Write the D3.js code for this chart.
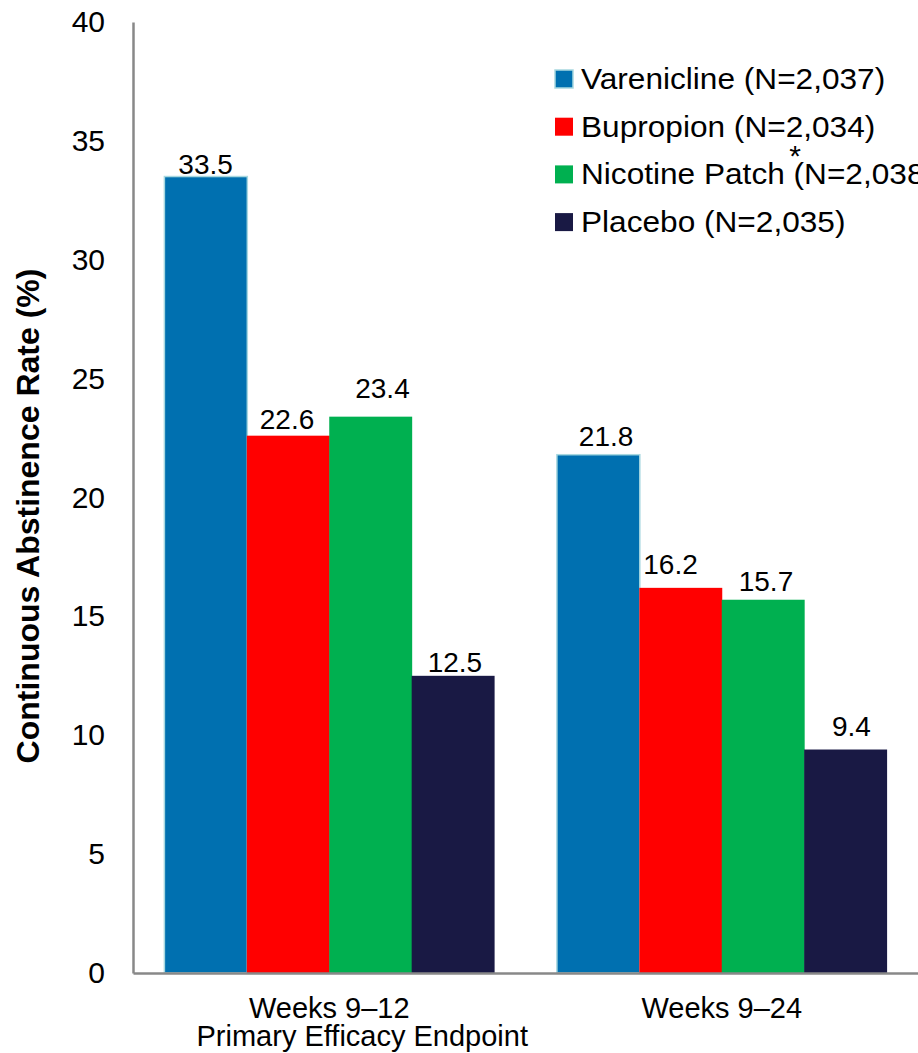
<!DOCTYPE html>
<html><head><meta charset="utf-8">
<script src="https://cdn.jsdelivr.net/npm/d3@7"></script>
<style>body{margin:0;background:#fff}svg{display:block;font-family:"Liberation Sans",Arial,sans-serif}</style>
</head><body>
<script>
const categories = ["Weeks 9\u201312", "Weeks 9\u201324"];
const subLabels = ["Primary Efficacy Endpoint", ""];
const seriesNames = ["Varenicline (N=2,037)", "Bupropion (N=2,034)", "Nicotine Patch (N=2,038)", "Placebo (N=2,035)"];
const varenicline = [33.5, 21.8];
const bupropion = [22.6, 16.2];
const nicotinePatch = [23.4, 15.7];
const placebo = [12.5, 9.4];
const yTicks = [0, 5, 10, 15, 20, 25, 30, 35, 40];

const colors = ["#0070b0", "#ff0000", "#00b050", "#191944"];
// label offsets (style only): [gap above bar, horizontal nudge] per series per category
const labelGap = [[3, 9], [7, 14], [19, 9], [4, 14]];
const labelDx = [[0, 8], [-1, -10], [12, 3], [2, 6]];
const series = [varenicline, bupropion, nicotinePatch, placebo];

const W = 918, H = 1053;
const svg = d3.select("body").append("svg").attr("width", W).attr("height", H);

const y = d3.scaleLinear().domain([0, 40]).range([973, 22]);
const x0 = d3.scaleBand().domain(categories).range([133, 918]).paddingInner(0.16).paddingOuter(0.08);
const x1 = d3.scaleBand().domain(d3.range(4)).range([0, x0.bandwidth()]);

// bars
categories.forEach((c, ci) => {
  series.forEach((s, si) => {
    const v = s[ci];
    svg.append("rect")
      .attr("x", x0(c) + x1(si))
      .attr("y", y(v))
      .attr("width", x1.bandwidth() + 0.5)
      .attr("height", y(0) - y(v))
      .attr("fill", colors[si])
      .attr("stroke", si === 0 ? "#a8d8e0" : "none")
      .attr("stroke-width", si === 0 ? 1.5 : 0);
  });
});
categories.forEach((c, ci) => {
  series.forEach((s, si) => {
    const v = s[ci];
    svg.append("text")
      .attr("x", x0(c) + x1(si) + x1.bandwidth() / 2 + labelDx[si][ci])
      .attr("y", y(v) - labelGap[si][ci])
      .attr("text-anchor", "middle")
      .attr("font-size", 28)
      .attr("fill", "#000")
      .text(v.toFixed(1));
  });
});

// axes
const yAxis = d3.axisLeft(y).tickValues(yTicks).tickSize(0).tickPadding(28);
const gy = svg.append("g").attr("transform", "translate(133,0)").call(yAxis);
gy.select(".domain").attr("stroke", "#888").attr("stroke-width", 2.5);
gy.selectAll("text").attr("font-size", 30).attr("fill", "#000").attr("font-family", "Liberation Sans, Arial, sans-serif");

const xAxis = d3.axisBottom(x0).tickSize(0).tickPadding(24);
const gx = svg.append("g").attr("transform", "translate(0,973)").call(xAxis);
gx.select(".domain").attr("stroke", "#888").attr("stroke-width", 2.5);
gx.selectAll("text").attr("font-size", 29).attr("fill", "#000").attr("font-family", "Liberation Sans, Arial, sans-serif").attr("dy", "0.71em");

svg.append("text")
  .attr("x", x0(categories[0]) + x0.bandwidth() / 2 + 33)
  .attr("y", 1046)
  .attr("text-anchor", "middle")
  .attr("font-size", 29)
  .text(subLabels[0]);

// y title
svg.append("text")
  .attr("transform", "translate(39,516) rotate(-90)")
  .attr("text-anchor", "middle")
  .attr("font-size", 32)
  .attr("font-weight", "bold")
  .text("Continuous Abstinence Rate (%)");

// legend
const leg = svg.append("g");
seriesNames.forEach((n, i) => {
  const cy = 79 + i * 47.7;
  leg.append("rect").attr("x", 555).attr("y", cy - 9).attr("width", 18).attr("height", 18)
    .attr("fill", colors[i]).attr("stroke", i === 0 ? "#a8d8e0" : "none").attr("stroke-width", 1.5);
  leg.append("text").attr("transform", `translate(581,${cy + 10}) scale(1.09,1)`).attr("font-size", 29).text(n);
});
leg.append("text").attr("x", 795).attr("y", 166).attr("text-anchor", "middle").attr("font-size", 30).text("*");
</script>
</body></html>
